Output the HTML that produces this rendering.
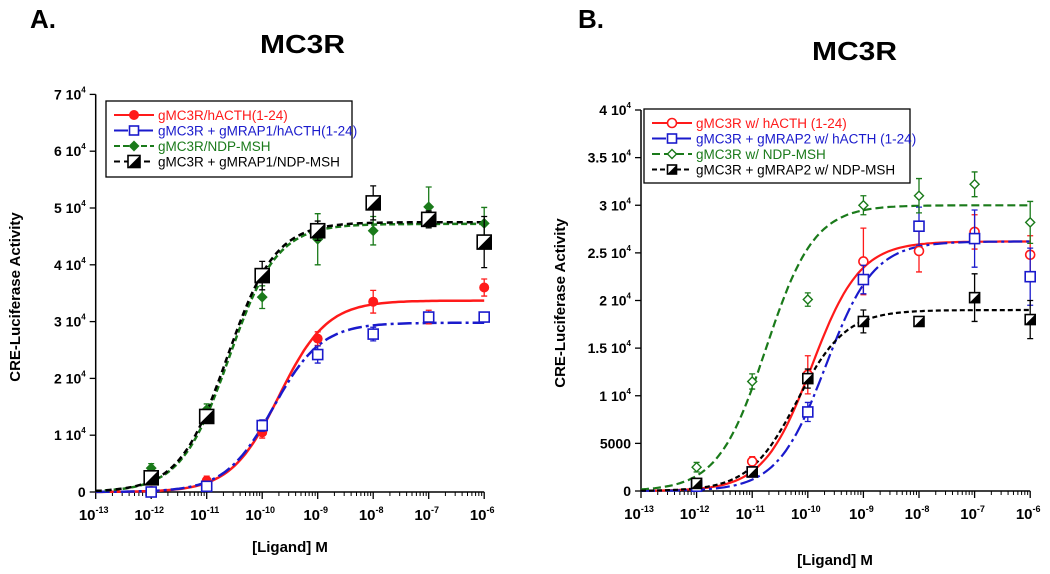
<!DOCTYPE html>
<html><head><meta charset="utf-8"><style>
html,body{margin:0;padding:0;background:#fff;}
svg{display:block;font-family:"Liberation Sans",Arial,sans-serif;}
</style></head><body>
<svg id="fig" width="1050" height="574" viewBox="0 0 1050 574">
<text x="30" y="28" font-size="26" font-weight="bold">A.</text>
<text x="260" y="53" font-size="26" font-weight="bold" textLength="85" lengthAdjust="spacingAndGlyphs">MC3R</text>
<text x="578" y="28" font-size="26" font-weight="bold">B.</text>
<text x="812" y="60" font-size="26" font-weight="bold" textLength="85" lengthAdjust="spacingAndGlyphs">MC3R</text>
<g id="pa"></g>
<g id="pb"></g>
</svg>
<script>
// shared x categories (log10 molar concentration)
const logDoses = [-12, -11, -10, -9, -8, -7, -6];
// Panel A data (units of 1e4)
const aRed = [0.02, 0.2, 1.05, 2.7, 3.35, 3.08, 3.6];
const aRedErr = [0.05, 0.08, 0.1, 0.12, 0.2, 0.12, 0.15];
const aBlue = [0.0, 0.1, 1.17, 2.42, 2.78, 3.08, 3.08];
const aBlueErr = [0.05, 0.05, 0.1, 0.15, 0.12, 0.05, 0.05];
const aGreen = [0.42, 1.45, 3.43, 4.45, 4.6, 5.02, 4.73];
const aGreenErr = [0.08, 0.1, 0.2, 0.45, 0.25, 0.35, 0.28];
const aBlack = [0.25, 1.33, 3.81, 4.6, 5.09, 4.8, 4.4];
const aBlackErr = [0.1, 0.1, 0.25, 0.17, 0.3, 0.15, 0.45];
const aFitTop = [3.37, 2.98, 4.72, 4.75];
const aFitEC50 = [-9.7, -9.8, -10.6, -10.63];
const aYTicks = [0, 1, 2, 3, 4, 5, 6, 7];
const aYTickLabels = ["0", "1 10", "2 10", "3 10", "4 10", "5 10", "6 10", "7 10"];
const aLegend = ["gMC3R/hACTH(1-24)", "gMC3R + gMRAP1/hACTH(1-24)", "gMC3R/NDP-MSH", "gMC3R + gMRAP1/NDP-MSH"];
// Panel B data (units of 1e4)
const bRed = [0.06, 0.31, 1.22, 2.41, 2.52, 2.72, 2.48];
const bRedErr = [0.03, 0.05, 0.2, 0.35, 0.22, 0.18, 0.2];
const bBlue = [0.05, 0.2, 0.83, 2.22, 2.78, 2.65, 2.25];
const bBlueErr = [0.03, 0.05, 0.1, 0.15, 0.2, 0.3, 0.3];
const bGreen = [0.25, 1.15, 2.01, 3.0, 3.1, 3.22, 2.82];
const bGreenErr = [0.05, 0.08, 0.07, 0.1, 0.18, 0.13, 0.22];
const bBlack = [0.08, 0.2, 1.18, 1.78, 1.78, 2.03, 1.8];
const bBlackErr = [0.03, 0.05, 0.1, 0.12, 0.0, 0.25, 0.2];
const bFitTop = [2.62, 2.62, 3.0, 1.9];
const bFitEC50 = [-9.93, -9.68, -10.75, -10.19];
const bYTicks = [0, 0.5, 1, 1.5, 2, 2.5, 3, 3.5, 4];
const bYTickLabels = ["0", "5000", "1 10", "1.5 10", "2 10", "2.5 10", "3 10", "3.5 10", "4 10"];
const bLegend = ["gMC3R w/ hACTH (1-24)", "gMC3R + gMRAP2 w/ hACTH (1-24)", "gMC3R w/ NDP-MSH", "gMC3R + gMRAP2 w/ NDP-MSH"];
const xTickExps = [-13, -12, -11, -10, -9, -8, -7, -6];

const NS = "http://www.w3.org/2000/svg";
function mk(parent, tag, attrs) {
  const e = document.createElementNS(NS, tag);
  for (const k in attrs) e.setAttribute(k, attrs[k]);
  parent.appendChild(e);
  return e;
}
const RED = "#ff1a1a", BLUE = "#1a1acc", GREEN = "#1a7a1a", BLACK = "#000";

function marker(g, kind, cx, cy, s, color) {
  let m;
  if (kind === "circle") {
    m = mk(g, "circle", {cx: cx, cy: cy, r: s / 2, fill: color, stroke: color, "stroke-width": 1});
  } else if (kind === "ocircle") {
    m = mk(g, "circle", {cx: cx, cy: cy, r: s / 2, fill: "#fff", stroke: color, "stroke-width": 1.6});
  } else if (kind === "osquare") {
    m = mk(g, "rect", {x: cx - s / 2, y: cy - s / 2, width: s, height: s, fill: "#fff", stroke: color, "stroke-width": 1.6});
  } else if (kind === "diamond" || kind === "odiamond") {
    const h = s / 2;
    m = mk(g, "polygon", {points: `${cx},${cy - h} ${cx + h},${cy} ${cx},${cy + h} ${cx - h},${cy}`, fill: kind === "diamond" ? color : "#fff", stroke: color, "stroke-width": 1.4});
  } else {
    const h = s / 2;
    m = mk(g, "g", {});
    mk(m, "rect", {x: cx - h, y: cy - h, width: s, height: s, fill: "#fff", stroke: "#000", "stroke-width": 1.6});
    mk(m, "polygon", {points: `${cx + h},${cy - h} ${cx + h},${cy + h} ${cx - h},${cy + h}`, fill: "#000"});
  }
  
  
  return m;
}

function panel(g, cfg) {
  const xs = v => cfg.x0 + (v + 13) * cfg.dec;
  const ys = v => cfg.y0 - v * cfg.unit;
  // axes
  const ax = mk(g, "line", {x1: cfg.x0, y1: cfg.y0, x2: xs(-6), y2: cfg.y0, stroke: "#000", "stroke-width": 1.5});
  
  
  const ay = mk(g, "line", {x1: cfg.x0, y1: cfg.y0, x2: cfg.x0, y2: ys(cfg.yTicks[cfg.yTicks.length - 1]), stroke: "#000", "stroke-width": 1.5});
  
  
  // x ticks
  xTickExps.forEach(e => {
    const x = xs(e);
    const t = mk(g, "line", {x1: x, y1: cfg.y0, x2: x, y2: cfg.y0 + 7, stroke: "#000", "stroke-width": 1.3});
    
    
    const lb = mk(g, "text", {x: x - 2, y: cfg.y0 + 28, "font-size": 15, "font-weight": "bold", "text-anchor": "middle"});
    
    
    lb.textContent = "10";
    const sp = mk(lb, "tspan", {dy: -7, "font-size": 9});
    sp.textContent = String(e);
    if (e < -6) for (let k = 2; k <= 9; k++) {
      const xm = xs(e + Math.log10(k));
      mk(g, "line", {x1: xm, y1: cfg.y0, x2: xm, y2: cfg.y0 + 4, stroke: "#000", "stroke-width": 1});
    }
  });
  // y ticks
  cfg.yTicks.forEach((v, i) => {
    const y = ys(v);
    const t = mk(g, "line", {x1: cfg.x0 - 6, y1: y, x2: cfg.x0, y2: y, stroke: "#000", "stroke-width": 1.3});
    
    
    const lb = mk(g, "text", {x: cfg.x0 - 10, y: y + 5, "font-size": 14, "font-weight": "bold", "text-anchor": "end"});
    
    
    const lab = cfg.yLabels[i];
    if (lab.endsWith(" 10")) {
      lb.textContent = lab;
      const sp = mk(lb, "tspan", {dy: -7, "font-size": 8});
      sp.textContent = "4";
    } else lb.textContent = lab;
  });
  // fits
  cfg.series.forEach((s, i) => {
    let d = "";
    for (let v = -13; v <= -6.0001; v += 0.05) {
      const yv = cfg.fitTop[i] / (1 + Math.pow(10, cfg.fitEC50[i] - v));
      d += (d ? "L" : "M") + xs(v).toFixed(1) + "," + ys(yv).toFixed(1);
    }
    const yv = cfg.fitTop[i] / (1 + Math.pow(10, cfg.fitEC50[i] + 6));
    d += "L" + xs(-6).toFixed(1) + "," + ys(yv).toFixed(1);
    const p = mk(g, "path", {d: d, fill: "none", stroke: s.color, "stroke-width": cfg.lw, "stroke-dasharray": s.dash || "none"});
    
    
  });
  // points + error bars
  cfg.series.forEach(s => {
    logDoses.forEach((d, j) => {
      const x = xs(d), y = ys(s.vals[j]), e = s.err[j] * cfg.unit;
      if (e > 0) {
        const eb = mk(g, "path", {d: `M${x},${y - e}V${y + e}M${x - 3},${y - e}H${x + 3}M${x - 3},${y + e}H${x + 3}`, stroke: s.color, "stroke-width": 1.3, fill: "none"});
        
        
      }
      marker(g, s.kind, x, y, s.size, s.color);
    });
  });
  // legend
  const L = cfg.leg;
  const box = mk(g, "rect", {x: L.x, y: L.y, width: L.w, height: L.h, fill: "#fff", stroke: "#000", "stroke-width": 1.3});
  
  
  cfg.series.forEach((s, i) => {
    const y = L.y + 14 + i * L.step;
    const ln = mk(g, "line", {x1: L.x + 8, y1: y, x2: L.x + 48, y2: y, stroke: s.color, "stroke-width": 2, "stroke-dasharray": s.dash || "none"});
    
    
    marker(g, s.kind, L.x + 28, y, s.legSize, s.color);
    const t = mk(g, "text", {x: L.x + 52, y: y + 5, "font-size": 13.5, fill: s.color});
    
    
    t.textContent = cfg.legendText[i];
  });
  // axis titles
  const xt = mk(g, "text", {x: cfg.xt[0], y: cfg.xt[1], "font-size": 15, "font-weight": "bold", "text-anchor": "middle"});
  
  
  xt.textContent = "[Ligand] M";
  const yt = mk(g, "text", {x: 0, y: 0, "font-size": 15, "font-weight": "bold", "text-anchor": "middle", transform: `translate(${cfg.yt[0]},${cfg.yt[1]}) rotate(-90)`});
  
  
  yt.textContent = "CRE-Luciferase Activity";
}

panel(document.getElementById("pa"), {
  x0: 95.7, dec: 55.5, y0: 492, unit: 56.8, lw: 2.5,
  yTicks: aYTicks, yLabels: aYTickLabels, fitTop: aFitTop, fitEC50: aFitEC50, legendText: aLegend,
  series: [
    {vals: aRed, err: aRedErr, color: RED, kind: "circle", size: 9, legSize: 9},
    {vals: aBlue, err: aBlueErr, color: BLUE, kind: "osquare", size: 10, legSize: 9, dash: "14,4,3,4"},
    {vals: aGreen, err: aGreenErr, color: GREEN, kind: "diamond", size: 9, legSize: 9, dash: "6,3"},
    {vals: aBlack, err: aBlackErr, color: BLACK, kind: "half", size: 14, legSize: 12, dash: "6,4"}
  ],
  leg: {x: 106, y: 101, w: 246, h: 76, step: 15.5},
  xt: [290, 552], yt: [20, 297]
});
panel(document.getElementById("pb"), {
  x0: 641, dec: 55.6, y0: 491, unit: 95.25, lw: 2.2,
  yTicks: bYTicks, yLabels: bYTickLabels, fitTop: bFitTop, fitEC50: bFitEC50, legendText: bLegend,
  series: [
    {vals: bRed, err: bRedErr, color: RED, kind: "ocircle", size: 9, legSize: 9},
    {vals: bBlue, err: bBlueErr, color: BLUE, kind: "osquare", size: 10, legSize: 9, dash: "14,4,3,4"},
    {vals: bGreen, err: bGreenErr, color: GREEN, kind: "odiamond", size: 9, legSize: 9, dash: "8,4"},
    {vals: bBlack, err: bBlackErr, color: BLACK, kind: "half", size: 10, legSize: 9, dash: "5,3"}
  ],
  leg: {x: 644, y: 109, w: 266, h: 74, step: 15.5},
  xt: [835, 565], yt: [565, 303]
});
</script>
</body></html>
